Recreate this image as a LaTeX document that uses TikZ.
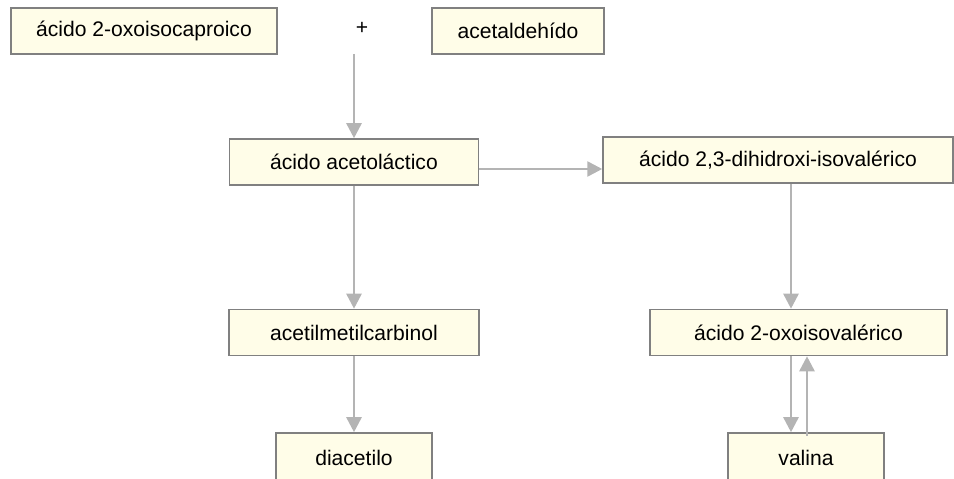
\documentclass[tikz,border=0pt]{standalone}
\usepackage{fontspec}
\setmainfont{Liberation Sans}
\usepackage{xcolor}
\usetikzlibrary{arrows.meta}
\definecolor{boxfill}{HTML}{FFFDE8}
\definecolor{boxline}{HTML}{808080}
\definecolor{flowgray}{HTML}{B4B4B4}

\begin{document}
\begin{tikzpicture}[x=0.02cm, y=-0.02cm,
  compound/.style={rectangle, draw=boxline, line width=0.9pt, fill=boxfill, inner sep=0pt,
    minimum height=0.92cm, font=\fontsize{12}{14}\selectfont},
  cutbox/.style={compound, minimum height=1.0cm},
  flow/.style={-{Triangle[length=0.3cm, width=0.3cm]}, line width=1.5pt, draw=flowgray, color=flowgray}]
\useasboundingbox (0,0) rectangle (954,479);
% Nodes
\node[compound, minimum width=5.32cm] (iso) at (144,31) {ácido 2-oxoisocaproico};
\node[font=\fontsize{12}{14}\selectfont] (plus) at (362,28) {+};
\node[compound, minimum width=3.44cm] (ald) at (518,31) {acetaldehído};
\node[compound, minimum width=4.98cm] (lac) at (354,162) {ácido acetoláctico};
\node[compound, minimum width=7.0cm] (dih) at (778,160) {ácido 2,3-dihidroxi-isovalérico};
\node[compound, minimum width=5.0cm] (car) at (354,332.5) {acetilmetilcarbinol};
\node[compound, minimum width=5.94cm] (oxo) at (798.5,332.5) {ácido 2-oxoisovalérico};
\node[cutbox, minimum width=3.12cm] (dia) at (354,458) {diacetilo};
\node[cutbox, minimum width=3.12cm] (val) at (806,458) {valina};
\coordinate (join) at (354,54);

% Arrows
\draw[flow] (join) -- (join |- lac.north);
\draw[flow] ([yshift=-0.14cm]lac.east) -- ([yshift=-0.14cm]lac.east -| dih.west);
\draw[flow] (lac) -- (car);
\draw[flow] (car) -- (dia);
\draw[flow] ([xshift=-0.15cm]oxo.north |- dih.south) -- ([xshift=-0.15cm]oxo.north);
\draw[flow] ([xshift=-0.15cm]oxo.south) -- ([xshift=-0.15cm]oxo.south |- val.north);
\draw[flow] ([xshift=0.02cm, yshift=-0.08cm]val.north) -- ([xshift=0.02cm]val.north |- oxo.south);
\end{tikzpicture}
\end{document}
